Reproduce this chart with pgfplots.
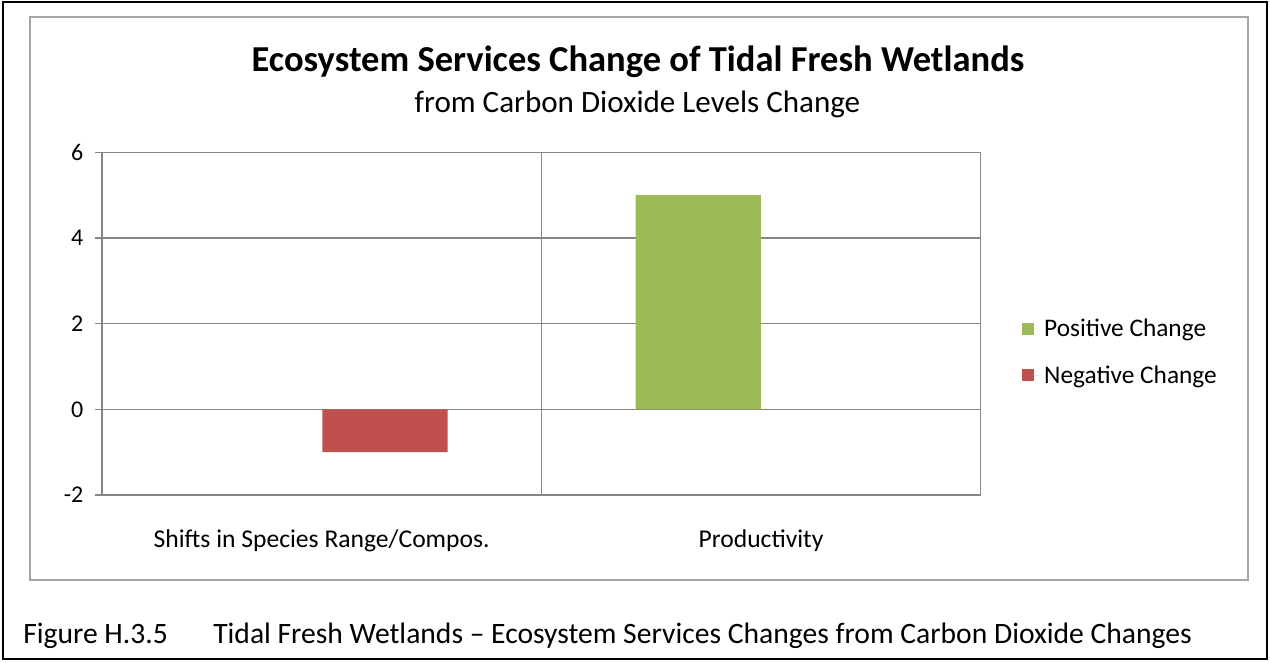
\documentclass[border=0pt]{standalone}
\usepackage{pgfplots}
\pgfplotsset{compat=1.18}
\usepackage{fontspec}
\setmainfont{Carlito}
\definecolor{posgreen}{HTML}{9BBB59}
\definecolor{negred}{HTML}{C0504D}
\definecolor{gridgrey}{HTML}{868686}
\definecolor{boxgrey}{HTML}{A6A6A6}
\begin{document}
\begin{tikzpicture}[x=0.75pt,y=0.75pt]
% page size in px (1270 x 662), y measured upwards
\path (0,0) rectangle (1270,662);
\draw[black,line width=1.5pt] (3,3) rectangle (1267,660);
\draw[boxgrey,line width=1.5pt] (30,82) rectangle (1248,645);

\node[font=\fontsize{27.4}{31}\selectfont\bfseries,anchor=base,inner sep=0pt] at (638,590) {Ecosystem Services Change of Tidal Fresh Wetlands};
\node[font=\fontsize{23.3}{27}\selectfont,anchor=base,inner sep=0pt] at (637.5,549.5) {from Carbon Dioxide Levels Change};

\begin{axis}[
  at={(76.5pt,125.25pt)}, anchor=south west,
  scale only axis, width=659pt, height=257pt,
  xmin=0, xmax=2, ymin=-2, ymax=6,
  ytick={-2,0,2,4,6},
  xtick={0.5,1.5},
  xticklabels={Shifts in Species Range/Compos., Productivity},
  minor xtick={1},
  xminorgrids, ymajorgrids,
  major x tick style={draw=none},
  minor x tick style={draw=none},
  y tick style={gridgrey, line width=1.2pt},
  major tick length=5.5pt,
  tick align=outside, tick pos=left,
  axis line style={gridgrey, line width=1.2pt},
  grid style={gridgrey, line width=1.2pt},
  y tick label style={font=\fontsize{18}{21}\selectfont, xshift=-5pt},
  x tick label style={font=\fontsize{19.2}{22}\selectfont, yshift=-17pt},
  /pgf/number format/assume math mode=true,
  ybar, bar width=0.285,
  legend style={draw=none, fill=none, at={(1.047,0.417)}, anchor=west,
    font=\fontsize{19}{22}\selectfont, row sep=16pt, inner sep=0pt,
    cells={anchor=west}},
  legend image code/.code={\fill[#1] (0pt,-4.5pt) rectangle (9pt,4.5pt);
    \path (0pt,0pt) -- (14.5pt,0pt);},
]
\addplot[fill=posgreen, draw=none, bar shift=-0.143] coordinates {(0.5,0) (1.5,5)};
\addlegendentry{Positive Change}
\addplot[fill=negred, draw=none, bar shift=0.144] coordinates {(0.5,-1) (1.5,0)};
\addlegendentry{Negative Change}
\end{axis}

\node[font=\fontsize{22.2}{26}\selectfont,anchor=base west,inner sep=0pt] at (23,19) {Figure H.3.5};
\node[font=\fontsize{22.2}{26}\selectfont,anchor=base west,inner sep=0pt] at (213,19) {Tidal Fresh Wetlands – Ecosystem Services Changes from Carbon Dioxide Changes};
\end{tikzpicture}
\end{document}
